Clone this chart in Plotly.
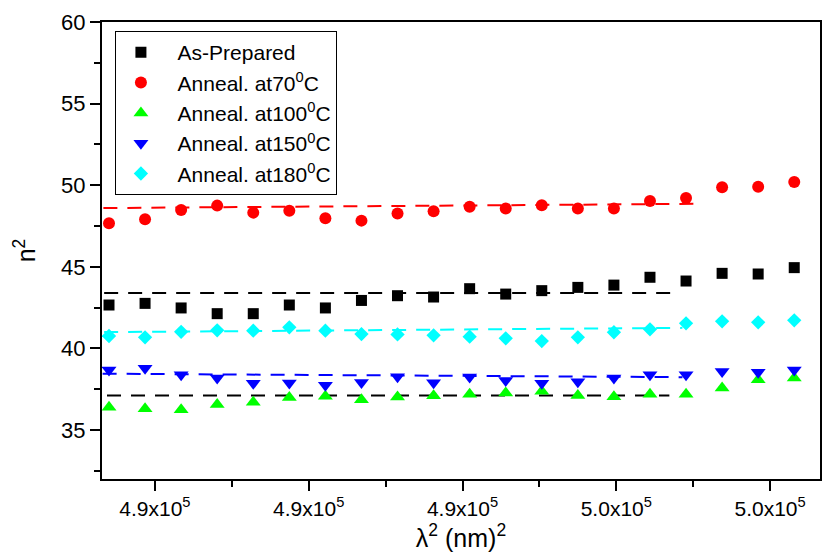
import plotly.graph_objects as go

# lambda^2 (nm^2) sampling positions
lambda_sq = [489403, 489872, 490341, 490810, 491279, 491748, 492217, 492686,
             493155, 493624, 494093, 494562, 495031, 495500, 495969, 496438,
             496907, 497376, 497845, 498314]

# n^2 for each sample
as_prepared = [42.66, 42.76, 42.48, 42.13, 42.13, 42.66, 42.48, 42.94, 43.23, 43.15,
               43.66, 43.33, 43.54, 43.74, 43.88, 44.36, 44.13, 44.60, 44.56, 44.95]
anneal_70 = [47.67, 47.91, 48.48, 48.75, 48.32, 48.44, 47.97, 47.83, 48.26, 48.40,
             48.68, 48.58, 48.77, 48.58, 48.58, 49.03, 49.22, 49.87, 49.91, 50.20]
anneal_100 = [36.39, 36.31, 36.25, 36.57, 36.70, 37.00, 37.07, 36.86, 37.02, 37.10,
              37.19, 37.27, 37.37, 37.12, 37.04, 37.19, 37.19, 37.57, 38.08, 38.19]
anneal_150 = [38.68, 38.78, 38.39, 38.19, 37.86, 37.88, 37.74, 37.92, 38.27, 37.90,
              38.25, 38.04, 37.86, 37.96, 38.19, 38.39, 38.39, 38.58, 38.54, 38.68]
anneal_180 = [40.76, 40.68, 41.02, 41.11, 41.09, 41.29, 41.09, 40.88, 40.86, 40.80,
              40.72, 40.62, 40.45, 40.68, 40.99, 41.17, 41.54, 41.66, 41.60, 41.72]

# Linear fits: (x_start, x_end), (y_start, y_end), colour
fit_x = {
    "70": [489330, 497040],
    "prep": [489340, 496730],
    "100": [489065, 496690],
    "150": [489320, 496860],
    "180": [489340, 496860],
}
fit_y = {
    "70": [48.60, 48.86],
    "prep": [43.39, 43.39],
    "100": [37.12, 37.12],
    "150": [38.45, 38.24],
    "180": [41.00, 41.26],
}
fit_colors = {"70": "#FF0000", "prep": "#000000", "100": "#000000",
              "150": "#0000FF", "180": "#00FFFF"}

series = [
    ("As-Prepared", as_prepared, "#000000", "square", 11),
    ("Anneal. at70<sup>0</sup>C", anneal_70, "#FF0000", "circle", 12),
    ("Anneal. at100<sup>0</sup>C", anneal_100, "#00FF00", "triangle-up", 13),
    ("Anneal. at150<sup>0</sup>C", anneal_150, "#0000FF", "triangle-down", 13),
    ("Anneal. at180<sup>0</sup>C", anneal_180, "#00FFFF", "diamond", 11),
]

x_tickvals = [490000, 492000, 494000, 496000, 498000]
x_ticktext = ["4.9x10<sup>5</sup>", "4.9x10<sup>5</sup>", "4.9x10<sup>5</sup>",
              "5.0x10<sup>5</sup>", "5.0x10<sup>5</sup>"]

fig = go.Figure()

for key in ["70", "prep", "100", "150", "180"]:
    fig.add_trace(go.Scatter(
        x=fit_x[key], y=fit_y[key], mode="lines",
        line=dict(color=fit_colors[key], width=2, dash="14px,10px"),
        showlegend=False, hoverinfo="skip",
    ))

# legend labels are padded with non-breaking spaces to widen the symbol/text gap
pad = "\u00a0\u00a0"
for name, vals, color, symbol, size in series:
    fig.add_trace(go.Scatter(
        x=lambda_sq, y=vals, mode="markers", name=pad + name,
        marker=dict(color=color, symbol=symbol, size=size, line=dict(width=0)),
    ))

font_family = "Liberation Sans, Arial, sans-serif"

fig.update_layout(
    width=822, height=552,
    margin=dict(l=102, r=0, t=22, b=73),
    paper_bgcolor="white", plot_bgcolor="white",
    font=dict(family=font_family, color="black", size=18),
    showlegend=True,
    legend=dict(
        x=0.018, y=0.98, xanchor="left", yanchor="top",
        bordercolor="black", borderwidth=1, bgcolor="white",
        font=dict(size=21, family=font_family),
        itemwidth=40, tracegroupgap=0,
    ),
    xaxis=dict(
        range=[489312, 498649],
        tickvals=x_tickvals, ticktext=x_ticktext,
        ticks="outside", ticklen=10, tickwidth=2, tickcolor="black",
        minor=dict(ticks="outside", ticklen=6, tickwidth=2, tickcolor="black",
                   tickvals=[491000, 493000, 495000, 497000]),
        showline=True, linewidth=2, linecolor="black", mirror=True,
        showgrid=False, zeroline=False,
        tickfont=dict(size=21),
        title=dict(text="\u03bb<sup>2</sup> (nm)<sup>2</sup>", font=dict(size=25), standoff=8),
    ),
    yaxis=dict(
        range=[32, 60],
        tickvals=[35, 40, 45, 50, 55, 60],
        ticks="outside", ticklen=10, tickwidth=2, tickcolor="black",
        minor=dict(ticks="outside", ticklen=6, tickwidth=2, tickcolor="black",
                   tickvals=[32.5, 37.5, 42.5, 47.5, 52.5, 57.5]),
        showline=True, linewidth=2, linecolor="black", mirror=True,
        showgrid=False, zeroline=False,
        tickfont=dict(size=22),
        title=dict(text="n<sup>2</sup>", font=dict(size=25), standoff=18),
    ),
)

fig.write_html("out.html")
